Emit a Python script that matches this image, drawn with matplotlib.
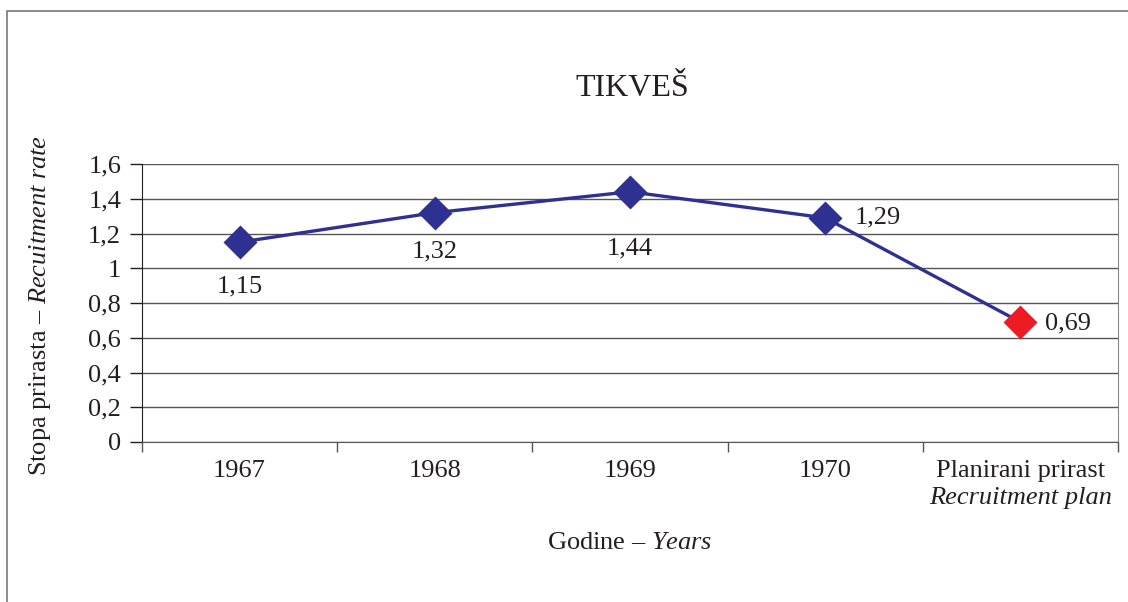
import matplotlib
matplotlib.use("Agg")
import matplotlib.pyplot as plt
from matplotlib.patches import Rectangle

cat_main = ["1967", "1968", "1969", "1970", "Planirani prirast"]
cat_sub = ["", "", "", "", "Recruitment plan"]
values = [1.15, 1.32, 1.44, 1.29, 0.69]
labels = ["1,15", "1,32", "1,44", "1,29", "0,69"]
yticks = [0, 0.2, 0.4, 0.6, 0.8, 1.0, 1.2, 1.4, 1.6]
yticklabels = ["0", "0,2", "0,4", "0,6", "0,8", "1", "1,2", "1,4", "1,6"]

plt.rcParams['font.family'] = ['Liberation Serif', 'DejaVu Serif']
plt.rcParams['mathtext.fontset'] = 'custom'
plt.rcParams['mathtext.rm'] = 'Liberation Serif'
plt.rcParams['mathtext.it'] = 'Liberation Serif:italic'
navy = "#2E3192"
red = "#ED1C24"
txt = "#231F20"
FS = 19

fig = plt.figure(figsize=(11.28, 6.02), dpi=100)
W, H = 1128, 602
ax = fig.add_axes([142 / W, 1 - 442 / H, (1118 - 142) / W, (442 - 164) / H])

x = list(range(len(values)))
ax.plot(x, values, color=navy, lw=2.4, zorder=3)
for i, v in enumerate(values):
    ax.plot(i, v, marker="D", ms=17, color=red if i == len(values) - 1 else navy,
            mec="none", zorder=4)

offsets = [(0, -32, "center"), (0, -28, "center"), (0, -41, "center"),
           (21, 0, "left"), (18, -1, "left")]
for i, (v, lab) in enumerate(zip(values, labels)):
    dx, dy, ha = offsets[i]
    ax.annotate(lab, (i, v), xytext=(dx, dy), textcoords="offset points",
                ha=ha, va="center", fontsize=FS, color=txt, zorder=5)

ax.set_xlim(-0.5, len(values) - 0.5)
ax.set_ylim(0, 1.6)
ax.set_yticks(yticks)
ax.set_yticklabels(yticklabels, fontsize=FS, color=txt)
ax.yaxis.grid(True, color="#555555", lw=1.0)
ax.set_axisbelow(True)
ax.tick_params(axis="y", length=9, width=1, color=txt, pad=6)

ax.set_xticks([i + 0.5 for i in range(-1, len(values))])
ax.set_xticklabels([])
ax.tick_params(axis="x", length=7, width=1, color="#555555")
ax.set_xticks(x, minor=True)
ax.set_xticklabels(cat_main, minor=True, fontsize=FS, color=txt)
ax.tick_params(axis="x", which="minor", length=0, pad=13)

for i, s in enumerate(cat_sub):
    if s:
        ax.annotate(s, (i, 0), xytext=(0, -40), textcoords="offset points",
                    style="italic", ha="center", va="center", fontsize=FS, color=txt)

ax.spines["top"].set_visible(False)
ax.spines["right"].set_color("#888888")
ax.spines["left"].set_color(txt)
ax.spines["bottom"].set_color("#555555")

fig.text(632 / W, 1 - 89 / H, "TIKVEŠ", ha="center", va="center", fontsize=23, color=txt)
fig.text(630 / W, 1 - 543 / H, "Godine – $\\it{Years}$", ha="center", va="center",
         fontsize=FS, color=txt)
fig.text(40 / W, 1 - 305 / H, "Stopa prirasta – $\\it{Recuitment\\ rate}$", rotation=90,
         ha="center", va="center", fontsize=FS, color=txt)

fig.patches.append(Rectangle((7 / W, -0.1), 1.2, (1 - 11 / H) + 0.1, transform=fig.transFigure,
                             fill=False, ec="#777777", lw=1.2))

fig.savefig("out.png", dpi=100)
